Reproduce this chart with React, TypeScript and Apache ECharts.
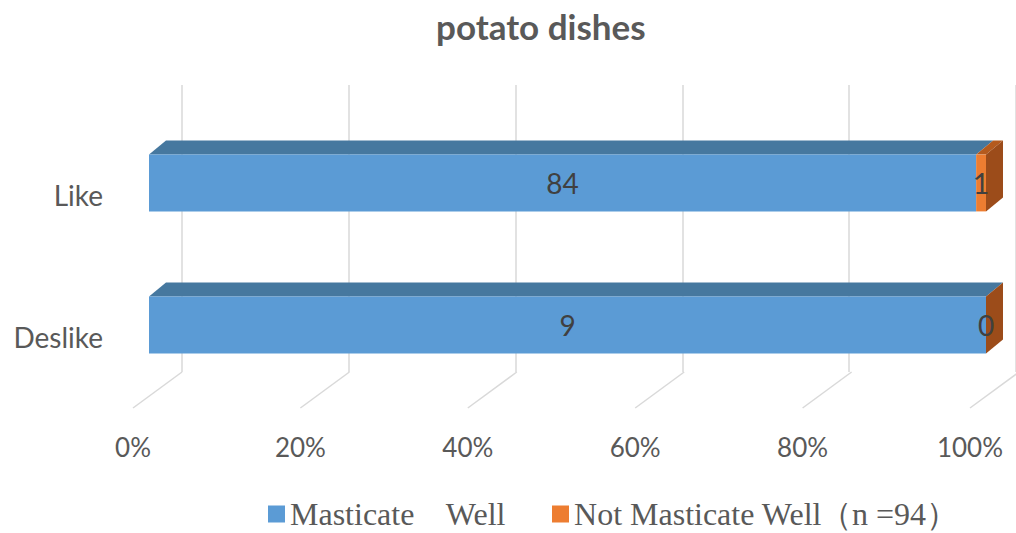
import React, { useEffect, useRef } from 'react';
import * as echarts from 'echarts';

const titleText = 'potato dishes';
const categories = ['Deslike', 'Like']; // bottom to top
const masticateWell = [9, 84];
const notMasticateWell = [0, 1];
const seriesNames = ['Masticate    Well', 'Not Masticate Well'];
const tickValues = [0, 20, 40, 60, 80, 100];
const sampleNote = '（n =94）';

const FRONT = ['#5B9BD5', '#ED7D31'];
const TOP = ['#46789F', '#B45A1E'];
const SIDE = ['#3F6E96', '#9C4C1A'];
const DX = 17;
const DY = -14;
const SANS = 'Lato, "Open Sans", sans-serif';
const SERIF = '"Liberation Serif", "Times New Roman", serif';

export default function App() {
  const ref = useRef<HTMLDivElement>(null);
  useEffect(() => {
    if (!ref.current) return;
    const chart = echarts.init(ref.current, undefined, { renderer: 'svg' });

    const totals = categories.map((_, i) => masticateWell[i] + notMasticateWell[i]);
    const pctA = masticateWell.map((v, i) => (v / totals[i]) * 100);
    const dataA = categories.map((_, i) => [i, 0, pctA[i], masticateWell[i]]);
    const dataB = categories.map((_, i) => [i, pctA[i], 100, notMasticateWell[i]]);

    const makeRender = (si: number, last: boolean) => (params: any, api: any) => {
      const cat = api.value(0);
      const s = api.value(1);
      const e = api.value(2);
      const raw = api.value(3);
      const p0 = api.coord([s, cat]);
      const p1 = api.coord([e, cat]);
      const h = api.size([0, 1])[1] * 0.4;
      const x0 = p0[0];
      const x1 = p1[0];
      const yT = p0[1] - h / 2;
      const yB = p0[1] + h / 2;
      const children: any[] = [
        {
          type: 'polygon',
          shape: { points: [[x0, yT], [x1, yT], [x1 + DX, yT + DY], [x0 + DX, yT + DY]] },
          style: { fill: TOP[si] },
        },
        {
          type: 'rect',
          shape: { x: x0, y: yT, width: Math.max(x1 - x0, 0), height: h },
          style: { fill: FRONT[si] },
        },
      ];
      if (last) {
        children.push({
          type: 'polygon',
          shape: { points: [[x1, yT], [x1 + DX, yT + DY], [x1 + DX, yB + DY], [x1, yB]] },
          style: { fill: SIDE[si] },
        });
      }
      children.push({
        type: 'text',
        z2: 10,
        style: {
          x: (x0 + x1) / 2,
          y: (yT + yB) / 2,
          text: String(raw),
          fill: '#404040',
          font: `28px ${SANS}`,
          align: 'center',
          verticalAlign: 'middle',
        },
      });
      return { type: 'group', children };
    };

    chart.setOption({
      animation: false,
      title: {
        text: titleText,
        left: 431,
        top: 3,
        textStyle: { fontFamily: SANS, fontSize: 35, fontWeight: 'bold', color: '#595959' },
      },
      legend: {
        left: 268,
        top: 498,
        padding: 0,
        itemWidth: 17,
        itemHeight: 17,
        itemGap: 46,
        icon: 'rect',
        data: seriesNames,
        textStyle: { fontFamily: SERIF, fontSize: 32, lineHeight: 26, color: '#595959' },
      },
      graphic: [
        {
          type: 'text',
          left: 820,
          top: 498,
          style: { text: sampleNote, font: `32px ${SERIF}`, lineHeight: 26, fill: '#595959' },
        },
      ],
      grid: [
        { left: 182, width: 837, top: 85, height: 287 },
        { left: 149, width: 837, top: 112, height: 284 },
        { left: 133, width: 837, top: 100, height: 308 },
      ],
      xAxis: [
        {
          gridIndex: 0, type: 'value', min: 0, max: 100, interval: 20,
          axisLine: { show: false }, axisTick: { show: false }, axisLabel: { show: false },
          splitLine: { show: true, lineStyle: { color: '#D9D9D9', width: 1.5 } },
        },
        {
          gridIndex: 1, type: 'value', min: 0, max: 100, show: false,
          splitLine: { show: false },
        },
        {
          gridIndex: 2, type: 'value', min: 0, max: 100, interval: 20,
          axisLine: { show: false }, axisTick: { show: false }, splitLine: { show: false },
          axisLabel: { formatter: '{value}%', margin: 26, fontFamily: SANS, fontSize: 26, color: '#595959' },
        },
      ],
      yAxis: [
        { gridIndex: 0, type: 'value', show: false, splitLine: { show: false } },
        {
          gridIndex: 1, type: 'category', data: categories,
          axisLine: { show: false }, axisTick: { show: false },
          axisLabel: { margin: 46, fontFamily: SANS, fontSize: 28, color: '#595959', verticalAlign: 'top', lineHeight: 24 },
        },
        { gridIndex: 2, type: 'value', min: 0, max: 1, show: false, splitLine: { show: false } },
      ],
      series: [
        {
          type: 'custom',
          name: 'floor',
          xAxisIndex: 2,
          yAxisIndex: 2,
          clip: false,
          silent: true,
          data: tickValues.map((v) => [v, 0]),
          renderItem: (params: any, api: any) => {
            const p = api.coord([api.value(0), 0]);
            return {
              type: 'line',
              shape: { x1: p[0], y1: p[1], x2: p[0] + 49, y2: p[1] - 36 },
              style: { stroke: '#D9D9D9', lineWidth: 1.5 },
            };
          },
        },
        {
          type: 'custom',
          name: seriesNames[0],
          xAxisIndex: 1,
          yAxisIndex: 1,
          clip: false,
          itemStyle: { color: FRONT[0] },
          encode: { x: [1, 2], y: 0 },
          data: dataA,
          renderItem: makeRender(0, false),
        },
        {
          type: 'custom',
          name: seriesNames[1],
          xAxisIndex: 1,
          yAxisIndex: 1,
          clip: false,
          itemStyle: { color: FRONT[1] },
          encode: { x: [1, 2], y: 0 },
          data: dataB,
          renderItem: makeRender(1, true),
        },
      ],
    });
    return () => chart.dispose();
  }, []);
  return <div ref={ref} style={{ position: 'fixed', left: 0, top: 0, width: 1016, height: 533, background: '#fff' }} />;
}
